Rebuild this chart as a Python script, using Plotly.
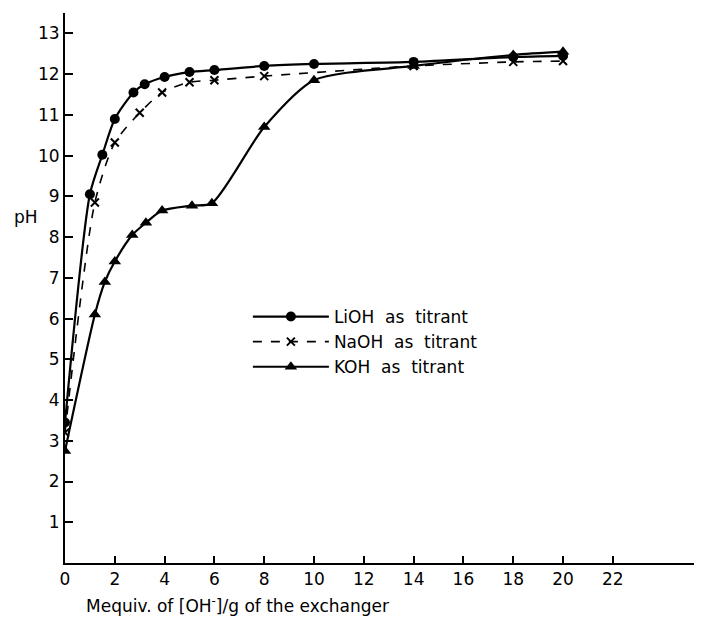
import plotly.graph_objects as go

# LiOH as titrant
lioh_x = [0, 1.0, 1.5, 2.0, 2.75, 3.2, 4.0, 5.0, 6.0, 8.0, 10.0, 14.0, 18.0, 20.0]
lioh_y = [3.45, 9.05, 10.02, 10.9, 11.55, 11.75, 11.93, 12.05, 12.1, 12.2, 12.25, 12.3, 12.42, 12.45]

# NaOH as titrant
naoh_x = [0, 1.2, 2.0, 3.0, 3.9, 5.0, 6.0, 8.0, 14.0, 18.0, 20.0]
naoh_y = [3.2, 8.85, 10.32, 11.05, 11.55, 11.8, 11.85, 11.95, 12.2, 12.3, 12.32]

# KOH as titrant
koh_x = [0, 1.2, 1.6, 2.0, 2.7, 3.25, 3.9, 5.1, 5.9, 8.0, 10.0, 14.0, 18.0, 20.0]
koh_y = [2.75, 6.1, 6.9, 7.4, 8.05, 8.35, 8.65, 8.77, 8.83, 10.7, 11.85, 12.2, 12.47, 12.55]

x_ticks = list(range(0, 23, 2))
y_ticks = list(range(1, 14))

FONT = "DejaVu Sans"

fig = go.Figure()
fig.add_trace(go.Scatter(
    x=lioh_x, y=lioh_y, name="LiOH  as  titrant", mode="lines+markers",
    line=dict(color="black", width=2.2, shape="spline", smoothing=0.7),
    marker=dict(symbol="circle", size=10, color="black"),
))
fig.add_trace(go.Scatter(
    x=naoh_x, y=naoh_y, name="NaOH  as  titrant", mode="lines+markers",
    line=dict(color="black", width=1.6, dash="dash", shape="spline", smoothing=0.7),
    marker=dict(symbol="x-thin", size=8, color="black", line=dict(width=2, color="black")),
))
fig.add_trace(go.Scatter(
    x=koh_x, y=koh_y, name="KOH  as  titrant", mode="lines+markers",
    line=dict(color="black", width=2.2, shape="spline", smoothing=0.7),
    marker=dict(symbol="triangle-up", size=11, color="black"),
))

fig.update_layout(
    width=694, height=611,
    margin=dict(l=57, r=2, t=5, b=56),
    paper_bgcolor="white", plot_bgcolor="white",
    font=dict(family=FONT, color="black", size=17),
    showlegend=True,
    legend=dict(
        x=0.288, y=0.48, xanchor="left", yanchor="top",
        bgcolor="rgba(0,0,0,0)", itemwidth=76, tracegroupgap=0,
        font=dict(family=FONT, size=17, color="black"),
    ),
    xaxis=dict(
        range=[0, 25.5], tickmode="array", tickvals=x_ticks,
        ticktext=[str(v) for v in x_ticks], automargin=False,
        showgrid=False, zeroline=False, showline=True, linecolor="black", linewidth=2,
        ticks="inside", ticklen=7, tickwidth=2, tickcolor="black",
        tickfont=dict(family=FONT, size=17, color="black"),
    ),
    yaxis=dict(
        range=[0, 13.5], tickmode="array", tickvals=y_ticks,
        ticktext=[str(v) for v in y_ticks], automargin=False,
        showgrid=False, zeroline=False, showline=True, linecolor="black", linewidth=2,
        ticks="inside", ticklen=8, tickwidth=2, tickcolor="black",
        tickfont=dict(family=FONT, size=17, color="black"),
    ),
    annotations=[
        dict(
            text="pH", xref="paper", yref="paper", x=-0.061, y=0.629,
            xanchor="center", yanchor="middle", showarrow=False,
            font=dict(family=FONT, size=17, color="black"),
        ),
        dict(
            text="Mequiv. of [OH<sup>-</sup>]/g of the exchanger",
            xref="paper", yref="paper", x=0.271, y=-0.076,
            xanchor="center", yanchor="middle", showarrow=False,
            font=dict(family=FONT, size=17, color="black"),
        ),
    ],
)

fig.write_html("out.html")
